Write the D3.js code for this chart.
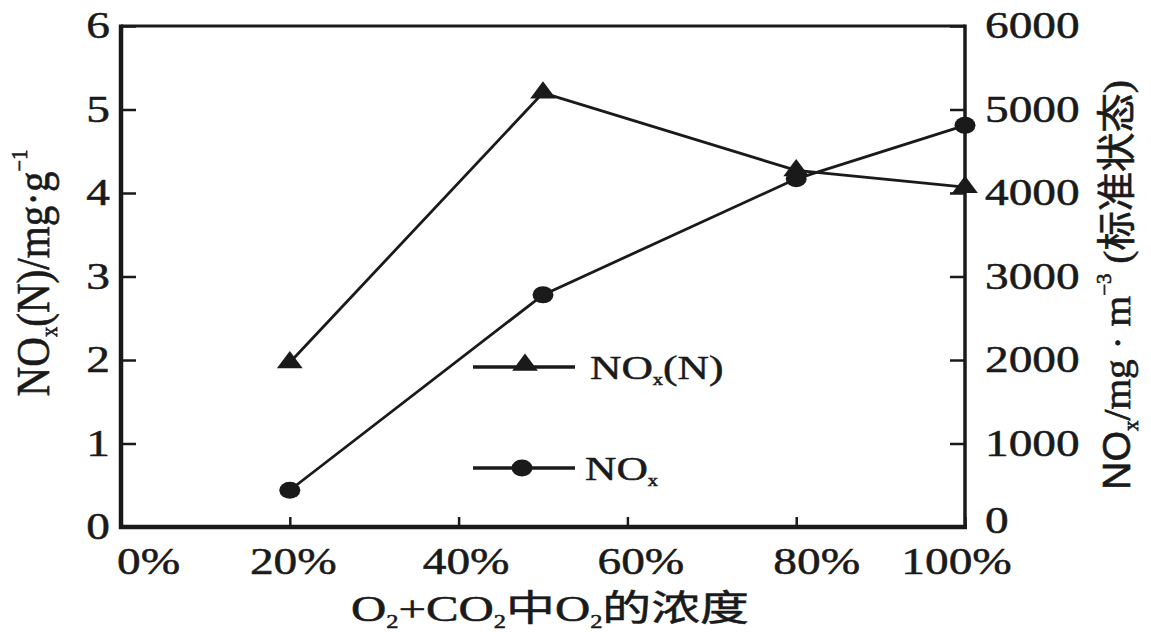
<!DOCTYPE html>
<html>
<head>
<meta charset="utf-8">
<script src="https://cdn.jsdelivr.net/npm/d3@7"></script>
<style>
  body { margin: 0; background: #fff; }
  svg text { font-family: "Liberation Serif", "Noto Sans CJK SC", serif; fill: #1a1a1a;
             stroke: #1a1a1a; stroke-width: 0.5px; }
</style>
</head>
<body>
<div id="chart"></div>
<script>
// O2 share in the O2+CO2 mix (%)
const o2Share = [20, 50, 80, 100];
// NOx(N) conversion, mg/g  (left axis, triangles)
const noxN = [1.97, 5.2, 4.27, 4.07];
// NOx concentration, mg/m3 (right axis, circles)
const noxConc = [440, 2780, 4170, 4810];

const xTicks = [0, 20, 40, 60, 80, 100];
const xTickLabels = ["0%", "20%", "40%", "60%", "80%", "100%"];
const leftTicks = [0, 1, 2, 3, 4, 5, 6];
const rightTicks = [0, 1000, 2000, 3000, 4000, 5000, 6000];

const W = 1151, H = 632;
const ink = "#1a1a1a";
const stretch = 1.28; // the picture is a bit wider than tall text

const svg = d3.select("#chart").append("svg")
  .attr("width", W).attr("height", H);

const x = d3.scaleLinear().domain([0, 100]).range([121, 965]);
const yL = d3.scaleLinear().domain([0, 6]).range([527, 26]);
const yR = d3.scaleLinear().domain([0, 6000]).range([527, 26]);

// label nudges, the printed labels are not exactly centred on ticks
const xLabelShift = [27, 3, 7, 13, 20, -9];

// ---- axes
const gx = svg.append("g")
  .attr("transform", "translate(0," + yL(0) + ")")
  .call(d3.axisBottom(x).tickValues(xTicks)
    .tickFormat((d, i) => xTickLabels[i])
    .tickSizeInner(-10).tickSizeOuter(0).tickPadding(21));
gx.select(".domain").remove();
gx.selectAll("line").attr("stroke", ink).attr("stroke-width", 2.5);
gx.selectAll("text")
  .attr("font-size", 37)
  .attr("fill", ink)
  .attr("x", (d, i) => xLabelShift[i] / stretch)
  .attr("transform", "scale(" + stretch + ",1)");

const gl = svg.append("g")
  .attr("transform", "translate(" + x(0) + ",0)")
  .call(d3.axisLeft(yL).tickValues(leftTicks).tickFormat(d3.format("d"))
    .tickSizeInner(-15).tickSizeOuter(0));
gl.select(".domain").remove();
gl.selectAll("line").attr("stroke", ink).attr("stroke-width", 2.5);
gl.selectAll("text")
  .attr("font-size", 37)
  .attr("fill", ink)
  .attr("x", -11 / stretch)
  .attr("transform", "scale(" + stretch + ",1)");

const gr = svg.append("g")
  .attr("transform", "translate(" + x(100) + ",0)")
  .call(d3.axisRight(yR).tickValues(rightTicks).tickFormat(d3.format("d"))
    .tickSizeInner(-15).tickSizeOuter(0));
gr.select(".domain").remove();
gr.selectAll("line").attr("stroke", ink).attr("stroke-width", 2.5);
gr.selectAll("text")
  .attr("font-size", 37)
  .attr("fill", ink)
  .attr("x", 20 / stretch)
  .attr("transform", "scale(" + stretch + ",1)");
// the bottom right "0" sits a little higher than its tick in the print
gr.selectAll("text").filter(d => d === 0).attr("dy", "0.15em");

// frame
svg.append("line").attr("x1", x(0)).attr("x2", x(100))
  .attr("y1", yL(6)).attr("y2", yL(6))
  .attr("stroke", ink).attr("stroke-width", 3);
svg.append("line").attr("x1", x(0) - 2).attr("x2", x(100) + 2)
  .attr("y1", yL(0)).attr("y2", yL(0))
  .attr("stroke", ink).attr("stroke-width", 4.5);
svg.append("line").attr("x1", x(0)).attr("x2", x(0))
  .attr("y1", yL(6) - 1.5).attr("y2", yL(0) + 2)
  .attr("stroke", ink).attr("stroke-width", 4.5);
svg.append("line").attr("x1", x(100)).attr("x2", x(100))
  .attr("y1", yL(6) - 1.5).attr("y2", yL(0) + 2)
  .attr("stroke", ink).attr("stroke-width", 3.5);

// ---- series
const tri = d3.symbol().type(d3.symbolTriangle).size(170);

function drawTriangle(g, px, py) {
  g.append("path").attr("d", tri())
    .attr("transform", "translate(" + px + "," + py + ") scale(1.3,1)")
    .attr("fill", ink);
}
function drawDot(g, px, py) {
  g.append("ellipse").attr("cx", px).attr("cy", py)
    .attr("rx", 10.5).attr("ry", 8.5).attr("fill", ink);
}

const lineN = d3.line().x((d, i) => x(o2Share[i])).y(d => yL(d));
const lineC = d3.line().x((d, i) => x(o2Share[i])).y(d => yR(d));

svg.append("path").datum(noxN).attr("d", lineN)
  .attr("fill", "none").attr("stroke", ink).attr("stroke-width", 2.8);
svg.append("path").datum(noxConc).attr("d", lineC)
  .attr("fill", "none").attr("stroke", ink).attr("stroke-width", 2.8);

const marks = svg.append("g");
noxN.forEach((v, i) => drawTriangle(marks, x(o2Share[i]), yL(v)));
noxConc.forEach((v, i) => drawDot(marks, x(o2Share[i]), yR(v)));

// ---- legend
const leg = svg.append("g");
leg.append("line").attr("x1", 473).attr("x2", 575).attr("y1", 367).attr("y2", 367)
  .attr("stroke", ink).attr("stroke-width", 3.5);
drawTriangle(leg, 525, 365);
leg.append("line").attr("x1", 473).attr("x2", 575).attr("y1", 468).attr("y2", 468)
  .attr("stroke", ink).attr("stroke-width", 3.5);
drawDot(leg, 522, 468);

function legendText(px, py, parts) {
  const t = leg.append("text").attr("font-size", 34)
    .attr("transform", "translate(" + px + "," + py + ") scale(" + stretch + ",1)");
  parts.forEach(p => {
    const s = t.append("tspan").text(p[0]);
    if (p[1] === "sub") s.attr("font-size", 16).attr("dy", 6);
    if (p[1] === "back") s.attr("dy", -6);
  });
}
legendText(590, 379, [["NO"], ["x", "sub"], ["(N)", "back"]]);
legendText(585, 480, [["NO"], ["x", "sub"]]);

// ---- titles
// build a text, then stretch it so it covers the same span as in the picture
function title(cx, baseY, length, rotate, fs, parts) {
  const g = svg.append("g");
  const t = g.append("text").attr("font-size", fs).attr("text-anchor", "start");
  let shift = 0;
  parts.forEach(p => {
    const s = t.append("tspan").text(p.text);
    if (p.size) s.attr("font-size", p.size);
    if (p.family) s.style("font-family", p.family);
    const want = p.dy || 0;
    if (want !== shift) { s.attr("dy", want - shift); shift = want; }
  });
  const bb = t.node().getBBox();
  const sAlong = length / bb.width;
  t.attr("x", -bb.width / 2 - bb.x);
  if (rotate) {
    g.attr("transform", "translate(" + baseY + "," + cx + ") rotate(-90) scale(" + sAlong + "," + stretch + ")");
  } else {
    g.attr("transform", "translate(" + cx + "," + baseY + ") scale(" + sAlong + ",1)");
  }
}

title(550, 621, 398, false, 36, [
  { text: "O" }, { text: "2", size: 18, dy: 7 }, { text: "+CO", dy: 0 },
  { text: "2", size: 18, dy: 7 }, { text: "中O", dy: 0 },
  { text: "2", size: 18, dy: 7 }, { text: "的浓度", dy: 0 }
]);

title(273, 49, 247, true, 36, [
  { text: "NO" }, { text: "x", size: 18, dy: 6 }, { text: "(N)/mg·g", dy: 0 },
  { text: "−1", size: 18, dy: -17 }
]);

title(285, 1130, 410, true, 30, [
  { text: "NO", family: "Liberation Sans" }, { text: "x", size: 16, dy: 6 },
  { text: "/mg · m", dy: 0 }, { text: "−3", size: 16, dy: -15 },
  { text: " (标准状态)", dy: 0 }
]);
</script>
</body>
</html>
